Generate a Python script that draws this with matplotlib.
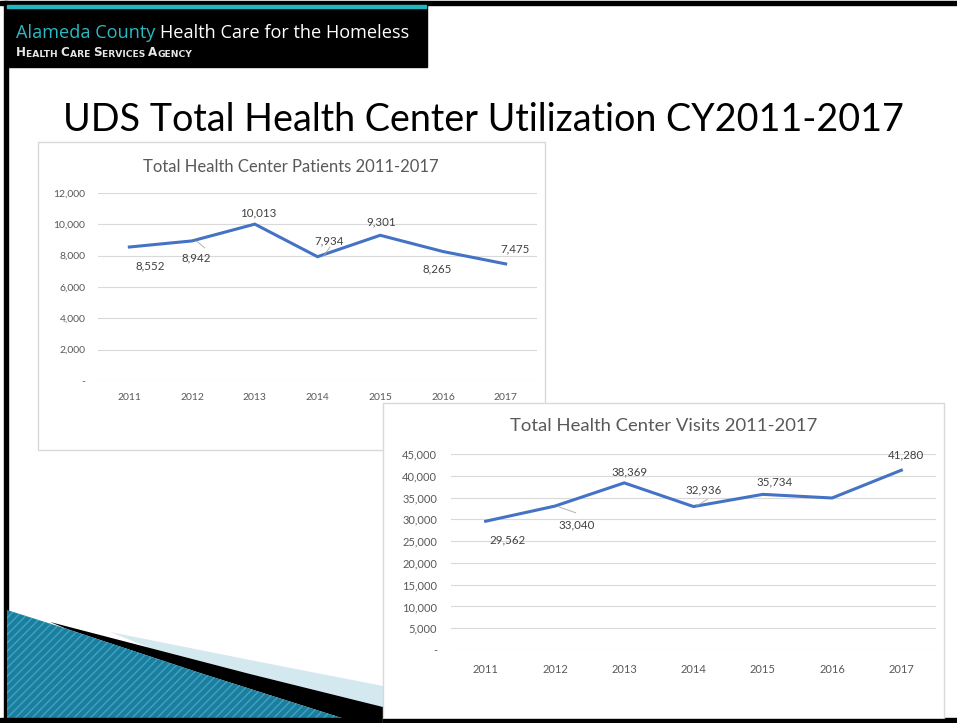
import matplotlib.pyplot as plt
from matplotlib.patches import Rectangle, Polygon
from matplotlib.ticker import FuncFormatter

# datos de las dos graficas
years = ['2011', '2012', '2013', '2014', '2015', '2016', '2017']
patients = [8552, 8942, 10013, 7934, 9301, 8265, 7475]
visits = [29562, 33040, 38369, 32936, 35734, 34900, 41280]
visits_labeled = [True, True, True, True, True, False, True]

# desplazamientos de las etiquetas (pixeles)
off_patients = [(21, -19), (4, -17), (3, 11), (12, 16), (1, 13), (-6, -17), (9, 15)]
off_visits = [(22, -19), (22, -19), (5, 11), (10, 17), (12, 12), (0, 0), (5, 15)]

W, H = 957, 723
BLUE = '#4472C4'
GRID = '#D9D9D9'
TICK = '#595959'
LAB = '#404040'
plt.rcParams['font.family'] = ['Lato', 'DejaVu Sans']

fig = plt.figure(figsize=(W / 100, H / 100), dpi=100)


def box(x0, y0, x1, y1):
    # pixel -> fraccion de figura
    return [x0 / W, 1 - y1 / H, (x1 - x0) / W, (y1 - y0) / H]


def fmt(v, pos):
    return '-' if v == 0 else f'{v:,.0f}'


# fondo: marco, encabezado, titulo y caja de la primera grafica
bg = fig.add_axes([0, 0, 1, 1])
bg.set_xlim(0, W)
bg.set_ylim(H, 0)
bg.axis('off')
bg.add_patch(Rectangle((0, 1), W, 4, color='black'))
bg.add_patch(Rectangle((4, 1), 3.5, H, color='black'))
bg.add_patch(Rectangle((5, 5), 422, 62, color='black'))
bg.add_patch(Rectangle((7, 5), 419, 3, color='#20B5C0'))
t = bg.text(16, 33, 'Alameda County ', color='#2BBAC4', fontsize=13.1, va='center',
            family='Open Sans')
bg.annotate('Health Care for the Homeless', xy=(1, 0.5), xycoords=t, color='white',
            fontsize=13.1, va='center', family='Open Sans')

# subtitulo en versalitas
piezas = [('H', 8.6), ('EALTH ', 6.6), ('C', 8.6), ('ARE ', 6.6), ('S', 8.6),
          ('ERVICES ', 6.6), ('A', 8.6), ('GENCY', 6.6)]
prev = None
for txt, fs in piezas:
    if prev is None:
        prev = bg.text(16, 56, txt, color='#E6E6E6', fontsize=fs, va='baseline',
                       weight='bold', family='DejaVu Sans')
    else:
        prev = bg.annotate(txt, xy=(1, 0), xycoords=prev, color='#E6E6E6', fontsize=fs,
                           va='bottom', weight='bold', family='DejaVu Sans')

bg.text(483, 120, 'UDS Total Health Center Utilization CY2011-2017', fontsize=27.2,
        ha='center', va='center', color='black')

bg.add_patch(Rectangle((38, 142), 507, 308, facecolor='white', edgecolor=GRID, lw=1))
bg.text(291, 167, 'Total Health Center Patients 2011-2017', fontsize=12,
        ha='center', va='center', color=TICK)

# adorno inferior izquierdo
bg.add_patch(Polygon([(110, 632), (250, 660), (383, 686), (383, 707),
                      (250, 674), (150, 648)], color='#D3E8EF', lw=0))
bg.add_patch(Polygon([(50, 622), (150, 648), (250, 674), (383, 707),
                      (383, 720), (348, 720), (200, 673), (67, 629)],
                     color='black', lw=0))
bg.add_patch(Polygon([(7, 610), (67, 629), (200, 673), (348, 720),
                      (7, 720)], facecolor='#1B7E9E', edgecolor='#3FA3C2',
                     hatch='////', lw=0))
bg.add_patch(Rectangle((0, 718), W, 4, color='black'))

# grafica 1: pacientes
ax1 = fig.add_axes(box(98, 193, 537, 381))
x = range(len(years))
ax1.plot(x, patients, color=BLUE, lw=2.2, solid_joinstyle='miter')
ax1.set_xlim(-0.5, len(years) - 0.5)
ax1.set_ylim(0, 12000)
ax1.set_yticks(range(0, 12001, 2000))
ax1.yaxis.set_major_formatter(FuncFormatter(fmt))
ax1.set_xticks(list(x))
ax1.set_xticklabels(years)
ax1.grid(axis='y', color=GRID, lw=0.8)
ax1.tick_params(length=0, labelsize=7.5, labelcolor=TICK, pad=9)
for s in ax1.spines.values():
    s.set_visible(False)
for i, v in enumerate(patients):
    ax1.annotate(f'{v:,}', (i, v), xytext=off_patients[i], textcoords='offset pixels',
                 ha='center', va='center', fontsize=8.3, color=LAB)
ax1.plot([1.07, 1.2], [8942, 8500], color='#A6A6A6', lw=0.6)
ax1.plot([3.1, 3.2], [8000, 8550], color='#A6A6A6', lw=0.6)

# caja de la segunda grafica (tapa a la primera)
ov = fig.add_axes([0, 0, 1, 1])
ov.set_xlim(0, W)
ov.set_ylim(H, 0)
ov.axis('off')
ov.add_patch(Rectangle((383, 403), 561, 320, facecolor='white', edgecolor=GRID, lw=1))
ov.add_patch(Rectangle((383, 719), 574, 4, color='black'))
ov.text(664, 426, 'Total Health Center Visits 2011-2017', fontsize=13.3,
        ha='center', va='center', color=TICK)

# grafica 2: visitas
ax2 = fig.add_axes(box(451, 454, 936, 650))
ax2.plot(x, visits, color=BLUE, lw=2.2, solid_joinstyle='miter')
ax2.set_xlim(-0.5, len(years) - 0.5)
ax2.set_ylim(0, 45000)
ax2.set_yticks(range(0, 45001, 5000))
ax2.yaxis.set_major_formatter(FuncFormatter(fmt))
ax2.set_xticks(list(x))
ax2.set_xticklabels(years)
ax2.grid(axis='y', color=GRID, lw=0.8)
ax2.tick_params(length=0, labelsize=8, labelcolor=TICK, pad=10)
for s in ax2.spines.values():
    s.set_visible(False)
for i, v in enumerate(visits):
    if visits_labeled[i]:
        ax2.annotate(f'{v:,}', (i, v), xytext=off_visits[i], textcoords='offset pixels',
                     ha='center', va='center', fontsize=8.3, color=LAB)
ax2.plot([1.05, 1.3], [32900, 31500], color='#A6A6A6', lw=0.6)
ax2.plot([3.05, 3.2], [33100, 34600], color='#A6A6A6', lw=0.6)

fig.savefig('out.png', dpi=100)
